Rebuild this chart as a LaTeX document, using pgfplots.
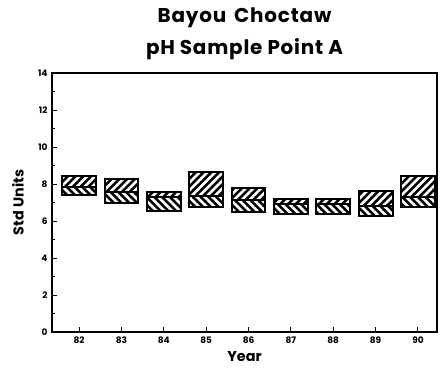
\documentclass[border=0pt]{standalone}
\usepackage{fontspec}
\setmainfont{Poppins}
\newfontfamily\titlefont{Poppins}[LetterSpace=4]
\usepackage{pgfplots}
\pgfplotsset{compat=1.18}
\usetikzlibrary{patterns.meta}
\begin{document}
\begin{tikzpicture}
\begin{axis}[
  name=ax,
  scale only axis, width=385bp, height=259bp,
  xmin=81.36, xmax=90.45, ymin=0, ymax=14,
  axis line style={line width=1.2pt},
  xtick={82,...,90}, xticklabels={82,83,84,85,86,87,88,89,90},
  ytick={0,2,...,14}, minor y tick num=1,
  xtick pos=left, ytick pos=left,
  tick align=inside, major tick length=5pt, minor tick length=3pt,
  tick style={line width=1pt, black},
  ticklabel style={font=\bfseries\small},
  yticklabel style={xshift=-1pt},
  xticklabel style={yshift=-1pt},
  /pgf/number format/assume math mode=true,
  xlabel={Year}, ylabel={Std Units},
  label style={font=\bfseries\Large},
  xlabel style={at={(rel axis cs:0.5,0)}, anchor=center, yshift=-25bp},
  ylabel style={at={(rel axis cs:0,0.5)}, anchor=center, yshift=34bp},
  title={Bayou\hspace{0.4em}Choctaw\\pH Sample Point A},
  title style={align=center, font=\titlefont\bfseries\fontsize{20}{32}\selectfont,
    at={(rel axis cs:0.5,1)}, anchor=south, inner sep=0pt, yshift=7bp},
  ybar stacked, bar width=0.8,
]
\addplot[draw=none, fill=none] coordinates {(82,7.41) (83,6.97) (84,6.54) (85,6.76) (86,6.49) (87,6.38) (88,6.38) (89,6.27) (90,6.76)};
\addplot[preaction={fill=black}, draw=black, line width=2pt,
  pattern={Lines[angle=-45,distance=5.5pt,line width=2.6pt]}, pattern color=white]
  coordinates {(82,0.43) (83,0.60) (84,0.76) (85,0.59) (86,0.65) (87,0.54) (88,0.54) (89,0.54) (90,0.54)};
\addplot[preaction={fill=black}, draw=black, line width=2pt,
  pattern={Lines[angle=45,distance=5.5pt,line width=2.6pt]}, pattern color=white]
  coordinates {(82,0.59) (83,0.70) (84,0.27) (85,1.30) (86,0.64) (87,0.27) (88,0.27) (89,0.81) (90,1.13)};
\end{axis}
\path ([xshift=-52bp,yshift=-40bp]ax.south west) rectangle ([xshift=4bp,yshift=73bp]ax.north east);
\end{tikzpicture}
\end{document}
